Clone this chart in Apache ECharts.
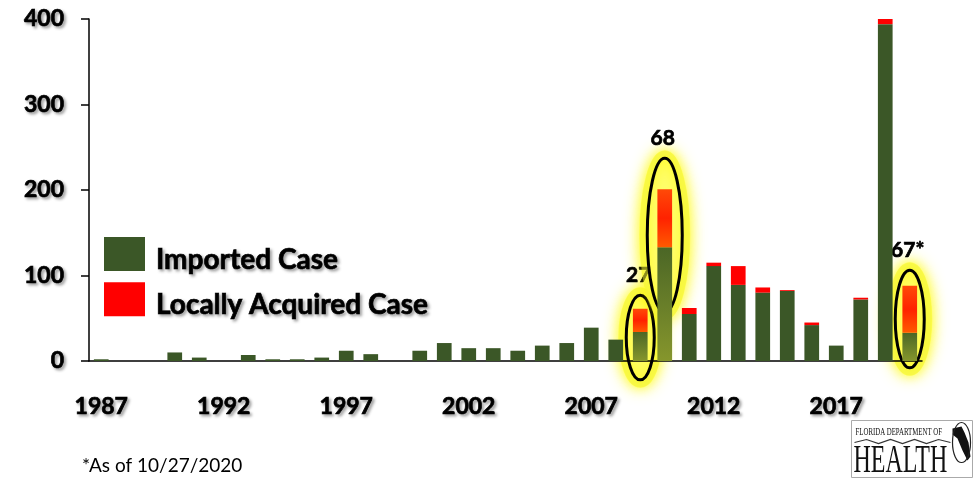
<!DOCTYPE html>
<html><head><meta charset="utf-8">
<script src="https://cdn.jsdelivr.net/npm/echarts@6/dist/echarts.min.js"></script>
<style>html,body{margin:0;padding:0;background:#fff}#c{width:974px;height:480px}</style>
</head><body><div id="c"></div>
<script>
const years = ['1987','1988','1989','1990','1991','1992','1993','1994','1995','1996','1997','1998','1999','2000','2001','2002','2003','2004','2005','2006','2007','2008','2009','2010','2011','2012','2013','2014','2015','2016','2017','2018','2019','2020'];
const imported = [2,0,0,10,4,0,7,2,2,4,12,8,0,12,21,15,15,12,18,21,39,25,34,133,55,111,89,80,82,42,18,72,394,33];
const local    = [0,0,0,0,0,0,0,0,0,0,0,0,0,0,0,0,0,0,0,0,0,0,27,68,7,4,22,6,1,3,0,2,6,55];
const yTicks = [0,100,200,300,400];
const seriesNames = ['Imported Case','Locally Acquired Case'];
const annotYears = ['2009','2010','2020'];
const annotLabels = ['27','68','67*'];
const footnote = '*As of 10/27/2020';

const FONT = 'Lato';
const heavy = {textBorderColor:'#000',textBorderWidth:0.7,textShadowColor:'rgba(0,0,0,0.35)',textShadowBlur:3,textShadowOffsetX:2,textShadowOffsetY:2};
const GREEN = '#3b5727', RED = '#ff0000';

function itemData(arr, kind){
  return arr.map((v,i)=>{
    if(annotYears.indexOf(years[i])<0) return v;
    const color = kind==='g'
      ? new echarts.graphic.LinearGradient(0,0,0,1,[{offset:0,color:'#4b6626'},{offset:1,color:'#86962c'}])
      : new echarts.graphic.LinearGradient(0,0,0,1,[{offset:0,color:'#ff4a08'},{offset:0.5,color:'#ff2200'},{offset:1,color:'#ff5a00'}]);
    return {value:v,itemStyle:{color}};
  });
}

const chart = echarts.init(document.getElementById('c'),null,{renderer:'canvas'});
chart.setOption({
  animation:false,
  backgroundColor:'#fff',
  grid:{left:89,right:52,top:19,bottom:119,containLabel:false},
  legend:{
    data:seriesNames, orient:'vertical', left:104, top:237, padding:0,
    itemWidth:41, itemHeight:34, itemGap:8, icon:'rect',
    formatter:'{t|{name}}',
    textStyle:{
      rich:{t:Object.assign({fontFamily:FONT,fontWeight:'bold',fontSize:28,color:'#000',padding:[12,0,0,6]},heavy)}
    }
  },
  xAxis:{
    type:'category', data:years,
    axisLine:{lineStyle:{color:'#000',width:1.5}},
    axisTick:{show:false},
    axisLabel:Object.assign({interval:4,margin:34,fontFamily:FONT,fontWeight:'bold',fontSize:23,color:'#000'},heavy)
  },
  yAxis:{
    type:'value', min:yTicks[0], max:yTicks[yTicks.length-1], interval:100,
    axisLine:{show:true,lineStyle:{color:'#000',width:1.5}},
    axisTick:{show:true,length:8,lineStyle:{color:'#000',width:1.5}},
    splitLine:{show:false},
    axisLabel:Object.assign({margin:25,fontFamily:FONT,fontWeight:'bold',fontSize:23,color:'#000'},heavy)
  },
  series:[
    {name:seriesNames[0],type:'bar',stack:'t',z:3,data:itemData(imported,'g'),itemStyle:{color:GREEN},barCategoryGap:'40%'},
    {name:seriesNames[1],type:'bar',stack:'t',z:3,data:itemData(local,'r'),itemStyle:{color:RED},barCategoryGap:'40%'}
  ]
});

// annotation ellipses (value extents and pixel radius)
const annotSpec = [
  {top:77,bottom:-22,rx:14},
  {top:237,bottom:57,rx:17.5},
  {top:106,bottom:-8,rx:14.5}
];
const gShadow = {shadowColor:'rgba(0,0,0,0.35)',shadowBlur:3,shadowOffsetX:2,shadowOffsetY:2};
const glow = [], front = [];
annotYears.forEach((yr,k)=>{
  const s = annotSpec[k];
  const pT = chart.convertToPixel({gridIndex:0},[yr,s.top]);
  const pB = chart.convertToPixel({gridIndex:0},[yr,s.bottom]);
  const cx = pT[0], cy=(pT[1]+pB[1])/2, ry=(pB[1]-pT[1])/2;
  glow.push({type:'ellipse',shape:{cx,cy,rx:s.rx+4,ry:ry+4},
    style:{fill:'rgba(255,255,120,0.6)',stroke:'rgba(255,255,80,0.8)',lineWidth:8,shadowBlur:16,shadowColor:'rgba(255,250,0,1)'}});
  front.push({type:'ellipse',shape:{cx,cy,rx:s.rx+3,ry:ry+3},
    style:{fill:null,stroke:'rgba(240,240,60,0.45)',lineWidth:9,shadowBlur:10,shadowColor:'rgba(255,255,0,0.8)'}});
  front.push({type:'ellipse',shape:{cx,cy,rx:s.rx,ry},
    style:{fill:null,stroke:'#000',lineWidth:3}});
  front.push({type:'text',x:cx-2,y:pT[1]-20,
    style:Object.assign({text:annotLabels[k],fontFamily:FONT,fontWeight:'bold',fontSize:21,fill:'#000',
      stroke:'#000',lineWidth:0.7,textAlign:'center',textVerticalAlign:'middle'},gShadow)});
});
front.push({type:'text',left:82,top:456,style:{text:footnote,fontFamily:FONT,fontSize:19,fill:'#000'}});
// logo
front.push({type:'group',left:851,top:420,children:[
  {type:'rect',shape:{x:0,y:0,width:121,height:57},style:{fill:'#fff',stroke:'#aaa',lineWidth:1}},
  {type:'text',x:4,y:6,scaleX:0.62,style:{text:'FLORIDA DEPARTMENT OF',fontFamily:'Liberation Serif',fontSize:11,fill:'#111'}},
  {type:'polyline',shape:{points:[[3,22],[15,19],[27,23],[39,19],[51,23],[63,19],[75,23],[87,19],[99,22]]},style:{stroke:'#333',lineWidth:1.2,fill:null}},
  {type:'text',x:2,y:21,scaleX:0.6,style:{text:'HEALTH',fontFamily:'Liberation Serif',fontSize:40,fill:'#111'}},
  {type:'polygon',shape:{points:[[101,8],[110,6],[113,12],[117,22],[119,36],[116,40],[111,30],[106,18],[101,14]]},style:{fill:'#111'}},
  {type:'ellipse',shape:{cx:110,cy:22,rx:9,ry:20},style:{fill:null,stroke:'#222',lineWidth:1.2}}
]});
chart.setOption({graphic:[
  {type:'group',z:1,children:glow},
  {type:'group',z:10,children:front}
]});
</script>
</body></html>
